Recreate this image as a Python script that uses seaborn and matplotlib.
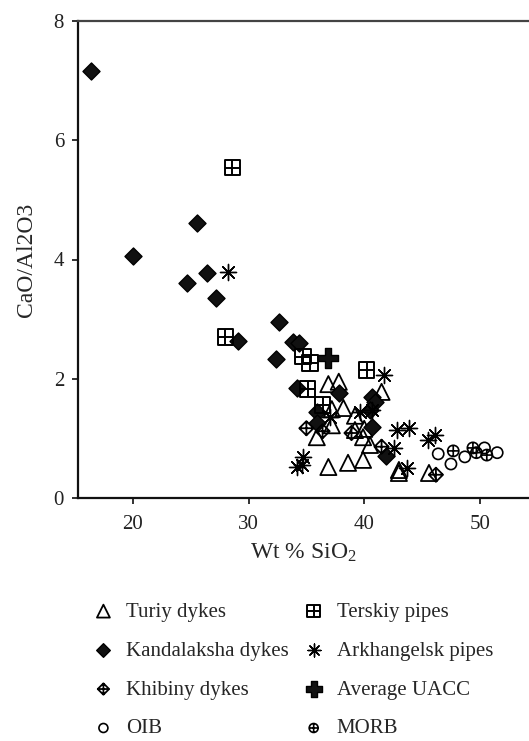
import numpy as np
import pandas as pd
import matplotlib
matplotlib.use("Agg")
import matplotlib.pyplot as plt
from matplotlib.path import Path
import seaborn as sns

# ---------------- data ----------------
turiy_x = [36.9, 37.8, 41.5, 37.2, 38.2, 35.9, 37.2, 39.2, 39.2, 40.0, 39.9, 40.5,
           36.9, 38.6, 39.9, 43.0, 43.0, 45.6]
turiy_y = [1.91, 1.95, 1.78, 1.49, 1.51, 1.02, 1.22, 1.38, 1.14, 1.16, 1.02, 0.89,
           0.52, 0.59, 0.64, 0.47, 0.42, 0.42]

kand_x = [16.4, 20.0, 25.5, 24.7, 26.4, 27.2, 29.1, 32.6, 32.4, 33.8, 34.4, 34.2,
          37.8, 40.7, 40.9, 40.5, 35.9, 35.9, 40.7, 41.9]
kand_y = [7.16, 4.06, 4.61, 3.61, 3.78, 3.36, 2.63, 2.95, 2.33, 2.62, 2.60, 1.85,
          1.76, 1.70, 1.61, 1.48, 1.44, 1.26, 1.19, 0.70]

khib_x = [35.0, 36.4, 38.9, 41.5, 46.2]
khib_y = [1.17, 1.12, 1.09, 0.86, 0.39]

oib_x = [46.4, 47.5, 48.7, 50.4, 51.5]
oib_y = [0.74, 0.57, 0.69, 0.84, 0.76]

tersk_x = [28.6, 28.0, 34.7, 35.3, 40.2, 35.1, 36.4]
tersk_y = [5.54, 2.70, 2.37, 2.26, 2.15, 1.83, 1.56]

arkh_x = [28.2, 41.7, 37.0, 39.6, 40.7, 42.8, 43.9, 45.5, 46.1, 42.6, 43.7, 34.7, 34.2, 34.6]
arkh_y = [3.79, 2.06, 1.36, 1.44, 1.48, 1.14, 1.17, 0.97, 1.06, 0.84, 0.50, 0.69, 0.52, 0.55]

uacc_x = [36.9]
uacc_y = [2.35]

morb_x = [47.7, 49.4, 49.7, 50.6]
morb_y = [0.79, 0.84, 0.76, 0.72]

x_ticks = [20, 30, 40, 50]
y_ticks = [0, 2, 4, 6, 8]
x_label = "Wt % SiO$_2$"
y_label = "CaO/Al2O3"

# ---------------- custom markers ----------------
def lines(*segs):
    return [Path(s) for s in segs]

square = Path([(-1, -1), (1, -1), (1, 1), (-1, 1), (-1, -1)],
              [Path.MOVETO, Path.LINETO, Path.LINETO, Path.LINETO, Path.CLOSEPOLY])
sq_grid = Path.make_compound_path(square, *lines([(-1, 0), (1, 0)], [(0, -1), (0, 1)]))

diamond = Path([(0, 1), (1, 0), (0, -1), (-1, 0), (0, 1)],
               [Path.MOVETO, Path.LINETO, Path.LINETO, Path.LINETO, Path.CLOSEPOLY])
dia_cross = Path.make_compound_path(diamond, *lines([(-1, 0), (1, 0)], [(0, -1), (0, 1)]))

circ_plus = Path.make_compound_path(Path.unit_circle(),
                                    *lines([(-1, 0), (1, 0)], [(0, -1), (0, 1)]))

# ---------------- style ----------------
sns.set_theme(style="ticks")
plt.rcParams["font.family"] = ["Liberation Serif", "DejaVu Serif"]
plt.rcParams["mathtext.fontset"] = "custom"
plt.rcParams["mathtext.rm"] = "Liberation Serif"
plt.rcParams["mathtext.it"] = "Liberation Serif:italic"

fig = plt.figure(figsize=(5.29, 7.41), dpi=100)
ax = fig.add_axes([78 / 529, 1 - 498 / 741, 1 - 78 / 529, (498 - 21) / 741])

k = "black"
sns.scatterplot(x=turiy_x, y=turiy_y, ax=ax, marker="^", s=135, color=k,
                facecolor="none", edgecolor=k, linewidth=1.3, label="Turiy dykes", zorder=3)
sns.scatterplot(x=kand_x, y=kand_y, ax=ax, marker="D", s=75, color=k,
                facecolor="#111111", edgecolor=k, linewidth=1.0, label="Kandalaksha dykes", zorder=3)
sns.scatterplot(x=khib_x, y=khib_y, ax=ax, marker=dia_cross, s=105, color=k,
                facecolor="none", edgecolor=k, linewidth=1.3, label="Khibiny dykes", zorder=3)
sns.scatterplot(x=oib_x, y=oib_y, ax=ax, marker="o", s=65, color=k,
                facecolor="none", edgecolor=k, linewidth=1.2, label="OIB", zorder=3)
sns.scatterplot(x=tersk_x, y=tersk_y, ax=ax, marker=sq_grid, s=125, color=k,
                facecolor="none", edgecolor=k, linewidth=1.4, label="Terskiy pipes", zorder=3)
sns.scatterplot(x=arkh_x, y=arkh_y, ax=ax, marker=(8, 2, 0), s=135, color=k,
                linewidth=1.0, label="Arkhangelsk pipes", zorder=3)
sns.scatterplot(x=uacc_x, y=uacc_y, ax=ax, marker="P", s=200, color=k,
                facecolor="#111111", edgecolor=k, linewidth=1.0, label="Average UACC", zorder=4)
sns.scatterplot(x=morb_x, y=morb_y, ax=ax, marker=circ_plus, s=65, color=k,
                facecolor="none", edgecolor=k, linewidth=1.2, label="MORB", zorder=3)

ax.set_xlim(15.25, 54.25)
ax.set_ylim(0, 8)
ax.set_xticks(x_ticks)
ax.set_yticks(y_ticks)
ax.set_xlabel(x_label, fontsize=17, labelpad=6)
ax.set_ylabel(y_label, fontsize=17, labelpad=12)
ax.tick_params(axis="both", direction="out", length=4, width=1.3, labelsize=15,
               colors="#222222", pad=6)
ax.tick_params(axis="x", pad=8)
for side in ["left", "bottom"]:
    ax.spines[side].set_linewidth(1.6)
    ax.spines[side].set_color("#111111")
ax.spines["top"].set_visible(True)
ax.spines["top"].set_linewidth(1.6)
ax.spines["top"].set_color("#444444")
ax.spines["right"].set_visible(False)

handles, labels = ax.get_legend_handles_labels()
ax.get_legend().remove()
fig.legend(handles, labels, ncol=2, loc="upper left",
           bbox_to_anchor=(93 / 529, 1 - 602 / 741), frameon=False,
           fontsize=15, markerscale=0.8, handlelength=1.0, handletextpad=0.6,
           columnspacing=0.68, labelspacing=0.93, borderpad=0, borderaxespad=0)

fig.savefig("out.png", dpi=100)
